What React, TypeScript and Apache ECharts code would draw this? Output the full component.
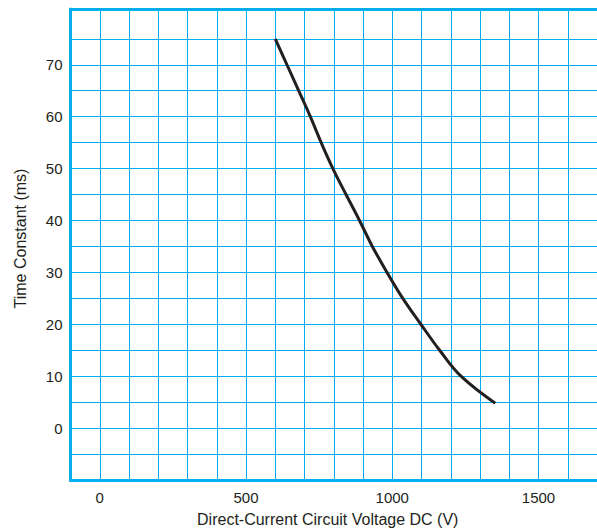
import React, { useEffect, useRef } from "react";
import * as echarts from "echarts";

const voltage = [600, 640, 680, 720, 757, 797, 842, 888, 932, 982, 1036, 1098, 1162, 1235, 1352];
const timeConstant = [75, 70, 65, 60, 55, 50, 45, 40, 35, 30, 25, 20, 15, 10, 4.8];
const xTickLabels = [0, 500, 1000, 1500];
const yTickLabels = [0, 10, 20, 30, 40, 50, 60, 70];

const BLUE = "#00aeef";
const INK = "#231f20";
const FONT = "'Liberation Sans', Arial, sans-serif";

export default function App() {
  const ref = useRef<HTMLDivElement>(null);
  useEffect(() => {
    if (!ref.current) return;
    const chart = echarts.init(ref.current, null, { renderer: "svg" });
    const data = voltage.map((v, i) => [v, timeConstant[i]]);
    chart.setOption({
      animation: false,
      backgroundColor: "#ffffff",
      grid: [
        { left: 70.5, right: 0, top: 9, bottom: 48, containLabel: false, outerBoundsMode: "none" },
        { left: 70.5, right: 0, top: 38.8, bottom: 48, containLabel: false, outerBoundsMode: "none" },
      ],
      xAxis: [
        {
          type: "value",
          gridIndex: 0,
          min: -100,
          max: 1700,
          interval: 100,
          position: "bottom",
          axisLine: { show: true, onZero: false, lineStyle: { color: BLUE, width: 3 } },
          axisTick: { show: false },
          splitLine: { show: true, lineStyle: { color: BLUE, width: 1 } },
          axisLabel: {
            margin: 10,
            color: INK,
            fontFamily: FONT,
            fontSize: 15,
            formatter: (v: number) => (xTickLabels.includes(v) ? String(v) : ""),
          },
          name: "Direct-Current Circuit Voltage DC (V)",
          nameLocation: "middle",
          nameGap: 31,
          nameTextStyle: { color: INK, fontFamily: FONT, fontSize: 16, padding: [0, 12, 0, 0] },
        },
        {
          type: "value",
          gridIndex: 0,
          min: -100,
          max: 1700,
          position: "top",
          axisLine: { show: true, onZero: false, lineStyle: { color: BLUE, width: 3 } },
          axisTick: { show: false },
          axisLabel: { show: false },
          splitLine: { show: false },
        },
        {
          type: "value",
          gridIndex: 1,
          min: -100,
          max: 1700,
          show: false,
          axisLine: { onZero: false },
        },
      ],
      yAxis: [
        {
          type: "value",
          gridIndex: 0,
          min: -10,
          max: 80.8,
          position: "left",
          axisLine: { show: true, onZero: false, lineStyle: { color: BLUE, width: 3 } },
          axisTick: { show: false },
          axisLabel: { show: false },
          splitLine: { show: false },
          name: "Time Constant (ms)",
          nameLocation: "middle",
          nameGap: 42,
          nameTextStyle: { color: INK, fontFamily: FONT, fontSize: 16, padding: [0, 0, 0, 12] },
        },
        {
          type: "value",
          gridIndex: 1,
          min: -10,
          max: 75,
          interval: 5,
          position: "left",
          axisLine: { show: false, onZero: false },
          axisTick: { show: false },
          splitLine: { show: true, lineStyle: { color: BLUE, width: 1 } },
          axisLabel: {
            margin: 8,
            color: INK,
            fontFamily: FONT,
            fontSize: 15,
            formatter: (v: number) => (yTickLabels.includes(v) ? String(v) : ""),
          },
        },
      ],
      series: [
        {
          type: "line",
          xAxisIndex: 2,
          yAxisIndex: 1,
          data,
          smooth: 0.4,
          showSymbol: false,
          symbol: "none",
          lineStyle: { color: INK, width: 3 },
          z: 10,
        },
      ],
    });
    return () => chart.dispose();
  }, []);
  return (
    <div
      ref={ref}
      style={{ position: "fixed", left: 0, top: 0, width: 597, height: 528 }}
    />
  );
}
